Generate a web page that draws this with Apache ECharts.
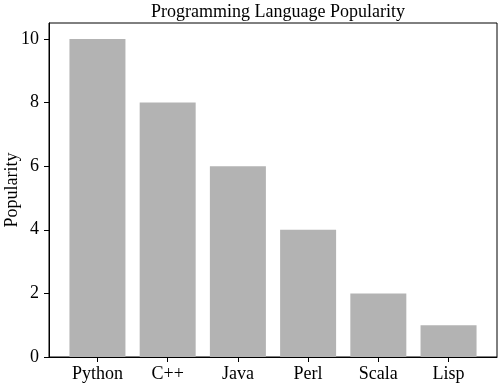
<!DOCTYPE html>
<html>
<head>
<meta charset="utf-8">
<script src="https://cdn.jsdelivr.net/npm/echarts@6/dist/echarts.min.js"></script>
<style>html,body{margin:0;padding:0;background:#fff}#c{width:500px;height:383px}</style>
</head>
<body>
<div id="c"></div>
<script>
const categories = ['Python', 'C++', 'Java', 'Perl', 'Scala', 'Lisp'];
const popularity = [10, 8, 6, 4, 2, 1];
const yTicks = [0, 2, 4, 6, 8, 10];
const titleText = 'Programming Language Popularity';
const yName = 'Popularity';

const positions = categories.map((c, i) => i + 1);
const barData = popularity.map((v, i) => [positions[i], v]);

const FONT = '"Liberation Serif", "Times New Roman", serif';
const chart = echarts.init(document.getElementById('c'), null, {renderer: 'canvas'});
chart.setOption({
  animation: false,
  backgroundColor: '#fff',
  title: {
    text: titleText, left: 273, textAlign: 'center', top: -2,
    textStyle: {fontFamily: FONT, fontSize: 18, fontWeight: 'normal', color: '#000'}
  },
  grid: {left: 49, right: 3, top: 23, bottom: 26, show: true, borderColor: '#000', borderWidth: 1,
         backgroundColor: 'transparent', containLabel: false, outerBoundsMode: 'none'},
  xAxis: {
    type: 'value', min: 0.31, max: 6.69,
    axisLine: {show: true, onZero: false, lineStyle: {color: '#000', width: 1}},
    splitLine: {show: false},
    axisTick: {show: true, inside: false, length: 5, customValues: positions, lineStyle: {color: '#000', width: 1}},
    axisLabel: {fontFamily: FONT, fontSize: 18, color: '#000', margin: 8, customValues: positions,
                formatter: v => categories[Math.round(v) - 1]}
  },
  yAxis: {
    type: 'value', min: 0, max: 10.5,
    name: yName, nameLocation: 'middle', nameGap: 28, nameMoveOverlap: false,
    nameTextStyle: {fontFamily: FONT, fontSize: 18, color: '#000'},
    axisLine: {show: true, onZero: false, lineStyle: {color: '#000', width: 1}},
    splitLine: {show: false},
    axisTick: {show: true, inside: false, length: 5, customValues: yTicks, lineStyle: {color: '#000', width: 1}},
    axisLabel: {fontFamily: FONT, fontSize: 18, color: '#000', margin: 10, customValues: yTicks}
  },
  series: [{
    type: 'bar', data: barData, barWidth: 56, itemStyle: {color: '#b3b3b3'}
  }]
});
</script>
</body>
</html>
